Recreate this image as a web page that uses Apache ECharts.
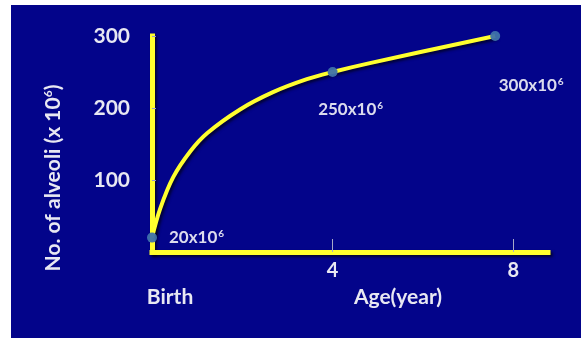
<!DOCTYPE html>
<html>
<head>
<meta charset="utf-8">
<title>Alveoli count by age</title>
<script src="https://cdn.jsdelivr.net/npm/echarts@6/dist/echarts.min.js"></script>
<style>
  html, body { margin: 0; padding: 0; background: #ffffff; }
  body { width: 581px; height: 338px; position: relative; overflow: hidden; }
  #chart { position: absolute; left: 11px; top: 5px; width: 570px; height: 333px; }
</style>
</head>
<body>
<div id="chart"></div>
<script>
// Growth curve of alveoli number (millions) against age (years)
const curveAges   = [0, 0.18, 0.47, 0.85, 1.22, 1.95, 2.68, 3.43, 4.0, 4.8, 7.6];
const curveCounts = [20, 60, 104, 140, 165, 198, 222, 240, 250, 262, 300];

// Marked milestones and their captions
const pointAges   = [0, 4.0, 7.6];
const pointCounts = [20, 250, 300];
const pointLabels = ['20x10', '250x10', '300x10'];

// Axis ticks
const xTicks = [4, 8];
const yTicks = [100, 200, 300];

const TEXT = '#e8e8f2';
const YELLOW = '#ffff2e';
const FONT = 'Lato';

const chart = echarts.init(document.getElementById('chart'));

const curveData = curveAges.map((a, i) => [a, curveCounts[i]]);
const pointOffsets = [[0, 0], [18, 38], [36, 50]];
const pointData = pointAges.map((a, i) => ({
  value: [a, pointCounts[i]],
  label: i === 0
    ? { position: 'right', distance: 12 }
    : { position: 'inside', offset: pointOffsets[i] }
}));

const axisShadow = {
  shadowColor: 'rgba(0,0,0,0.65)', shadowBlur: 3, shadowOffsetX: 2, shadowOffsetY: 2
};

chart.setOption({
  backgroundColor: '#03048a',
  animation: false,
  grid: { left: 141, top: 31, right: 33, bottom: 86 },
  xAxis: {
    type: 'value', min: 0, max: 8.77,
    splitLine: { show: false },
    axisLine: { lineStyle: Object.assign({ color: YELLOW, width: 5, cap: 'square' }, axisShadow) },
    axisTick: { inside: true, length: 13, lineStyle: { color: '#a8a8c8', width: 1 }, customValues: xTicks },
    axisLabel: {
      customValues: xTicks, color: TEXT, fontFamily: FONT, fontWeight: 'bold', fontSize: 20, margin: 9
    }
  },
  yAxis: {
    type: 'value', min: 0, max: 300,
    splitLine: { show: false },
    axisLine: { lineStyle: Object.assign({ color: YELLOW, width: 5, cap: 'square' }, axisShadow) },
    axisTick: { inside: true, length: 4, lineStyle: { color: '#9a9ac8', width: 1 }, customValues: yTicks },
    axisLabel: {
      customValues: yTicks, color: TEXT, fontFamily: FONT, fontWeight: 'bold', fontSize: 21, margin: 22
    }
  },
  series: [
    {
      type: 'line',
      data: curveData,
      smooth: 0.35,
      showSymbol: false,
      lineStyle: Object.assign({ color: YELLOW, width: 4 }, axisShadow),
      z: 2
    },
    {
      type: 'scatter',
      data: pointData,
      symbolSize: 10,
      itemStyle: { color: '#3f72ab', opacity: 0.95 },
      label: {
        show: true,
        formatter: p => '{n|' + pointLabels[p.dataIndex] + '}{s|6}',
        rich: {
          n: { color: TEXT, fontFamily: FONT, fontWeight: 'bold', fontSize: 17 },
          s: { color: TEXT, fontFamily: FONT, fontWeight: 'bold', fontSize: 10, verticalAlign: 'top', padding: [0, 0, 8, 1] }
        }
      },
      z: 3
    }
  ],
  graphic: [
    {
      type: 'text', x: 42, y: 173, rotation: Math.PI / 2,
      style: {
        text: '{a|No. of alveoli (x 10}{s|6}{a|)}',
        align: 'center', verticalAlign: 'middle',
        rich: {
          a: { fill: TEXT, fontFamily: FONT, fontWeight: 'bold', fontSize: 21 },
          s: { fill: TEXT, fontFamily: FONT, fontWeight: 'bold', fontSize: 12, verticalAlign: 'top', padding: [0, 0, 9, 0] }
        }
      }
    },
    {
      type: 'text', x: 159, y: 292,
      style: { text: 'Birth', fill: TEXT, fontFamily: FONT, fontWeight: 'bold', fontSize: 21, align: 'center', verticalAlign: 'middle' }
    },
    {
      type: 'text', x: 387, y: 292,
      style: { text: 'Age(year)', fill: TEXT, fontFamily: FONT, fontWeight: 'bold', fontSize: 21, align: 'center', verticalAlign: 'middle' }
    }
  ]
});
</script>
</body>
</html>
